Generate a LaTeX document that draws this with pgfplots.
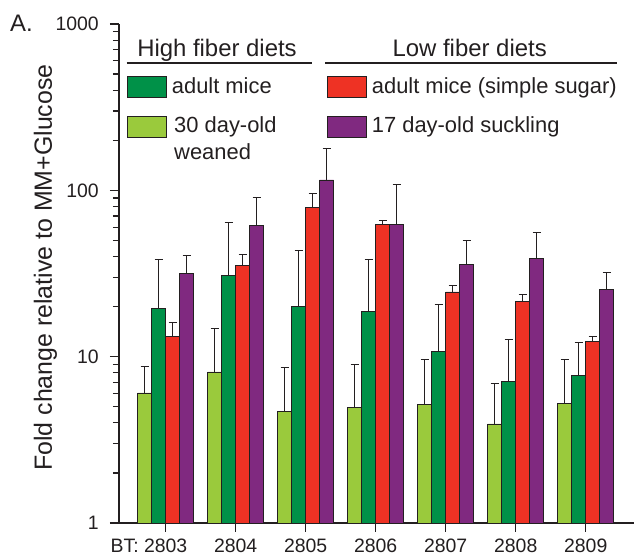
\documentclass[border=0pt]{standalone}
\usepackage{pgfplots}
\pgfplotsset{compat=1.18}
\usepackage{fontspec}
\setmainfont{Liberation Sans}
\definecolor{lgreen}{RGB}{154,202,60}
\definecolor{dgreen}{RGB}{0,145,72}
\definecolor{myred}{RGB}{238,50,36}
\definecolor{mypurple}{RGB}{128,41,128}
\definecolor{txt}{RGB}{35,31,32}

\pgfplotstableread{
x y e
0 6.05 2.62
1 8.09 6.61
2 4.67 3.95
3 4.98 4.01
4 5.17 4.42
5 3.94 2.97
6 5.24 4.35
}\weaned
\pgfplotstableread{
x y e
0 19.4 18.9
1 30.6 33.3
2 20.1 23.5
3 18.6 19.7
4 10.7 9.9
5 7.07 5.58
6 7.72 4.38
}\adult
\pgfplotstableread{
x y e
0 13.2 2.9
1 35.3 5.9
2 79.0 16.5
3 62.5 3.5
4 24.5 2.3
5 21.4 2.3
6 12.4 0.85
}\sugar
\pgfplotstableread{
x y e
0 31.6 8.9
1 61.6 29.2
2 115.5 63.5
3 62.2 46.5
4 35.9 13.9
5 38.8 17.1
6 25.2 6.8
}\suckling

\begin{document}
\begin{tikzpicture}
\begin{axis}[
  at={(0,0)}, anchor=south west,
  scale only axis, width=515bp, height=499bp,
  ymode=log, log basis y=10, ymin=1, ymax=1000,
  xmin=-0.667, xmax=6.69,
  axis lines*=left,
  axis line style={-, line width=1.2bp, txt},
  tick align=outside,
  major tick length=9bp, minor tick length=6bp,
  tick style={line width=1.2bp, color=txt},
  ytick={1,10,100,1000}, yticklabels={1,10,100,1000},
  minor ytick={2,3,4,5,6,7,8,9,20,30,40,50,60,70,80,90,200,300,400,500,600,700,800,900},
  xtick={0,1,2,3,4,5,6},
  xticklabels={\llap{BT: }2803,2804,2805,2806,2807,2808,2809},
  ticklabel style={font=\fontsize{19.5}{20}\selectfont, text=txt},
  xticklabel style={anchor=north, inner sep=0pt, yshift=-7bp},
  yticklabel style={anchor=east, inner sep=0pt, xshift=-11bp},
  ylabel={Fold change relative to MM+Glucose},
  ylabel style={at={(axis description cs:-0.143,0.512)}, anchor=center, font=\fontsize{25}{26}\selectfont, text=txt},
  clip=false,
  ybar=0pt, bar width=14bp,
  error bars/y dir=plus, error bars/y explicit,
  error bars/error mark=-,
  error bars/error bar style={line width=1bp, txt},
  error bars/error mark options={rotate=90, line width=1bp, mark size=4bp, txt},
]
\addplot[fill=lgreen, draw=txt, line width=0.8bp] table[x=x, y=y, y error plus=e] {\weaned};
\addplot[fill=dgreen, draw=txt, line width=0.8bp] table[x=x, y=y, y error plus=e] {\adult};
\addplot[fill=myred, draw=txt, line width=0.8bp] table[x=x, y=y, y error plus=e] {\sugar};
\addplot[fill=mypurple, draw=txt, line width=0.8bp] table[x=x, y=y, y error plus=e] {\suckling};
% tick marks (axis decoration)
\pgfplotsinvokeforeach{0,1,2,3,4,5,6}{\draw[line width=1.2bp, txt] (axis cs:#1,1) -- ++(0bp,-9bp);}
\pgfplotsinvokeforeach{1,10,100,1000}{\draw[line width=1.2bp, txt] (axis cs:-0.667,#1) -- ++(-9bp,0bp);}
\pgfplotsinvokeforeach{2,3,4,5,6,7,8,9,20,30,40,50,60,70,80,90,200,300,400,500,600,700,800,900}{\draw[line width=1.2bp, txt] (axis cs:-0.667,#1) -- ++(-6bp,0bp);}
\end{axis}
\begin{scope}[x=1bp,y=1bp]
\path (-119,-35) rectangle (520,523);
% panel label
\node[anchor=base west, inner sep=0, font=\fontsize{24}{26}\selectfont, text=txt] at (-109,491) {A.};
% headers
\node[anchor=base, inner sep=0, font=\fontsize{24}{26}\selectfont, text=txt] at (98,466) {High fiber diets};
\node[anchor=base, inner sep=0, font=\fontsize{24}{26}\selectfont, text=txt] at (350.7,466) {Low fiber diets};
\draw[line width=1.3bp, txt] (7.7,460) -- (192.7,460);
\draw[line width=1.3bp, txt] (206,460) -- (498,460);
% legend boxes
\filldraw[fill=dgreen, draw=txt, line width=0.6bp] (8,425.7) rectangle (47,447);
\filldraw[fill=lgreen, draw=txt, line width=0.6bp] (8,385.7) rectangle (47,407);
\filldraw[fill=myred, draw=txt, line width=0.6bp] (208,425.7) rectangle (247.7,447);
\filldraw[fill=mypurple, draw=txt, line width=0.6bp] (208,385.7) rectangle (247.7,407);
% legend texts
\begin{scope}[every node/.style={anchor=base west, inner sep=0, font=\fontsize{22}{24}\selectfont, text=txt}]
\node at (52.7,429.7) {adult mice};
\node at (55,390) {30 day-old};
\node at (55,363) {weaned};
\node at (252.7,429.7) {adult mice (simple sugar)};
\node at (252.7,390) {17 day-old suckling};
\end{scope}
\end{scope}
\end{tikzpicture}
\end{document}
